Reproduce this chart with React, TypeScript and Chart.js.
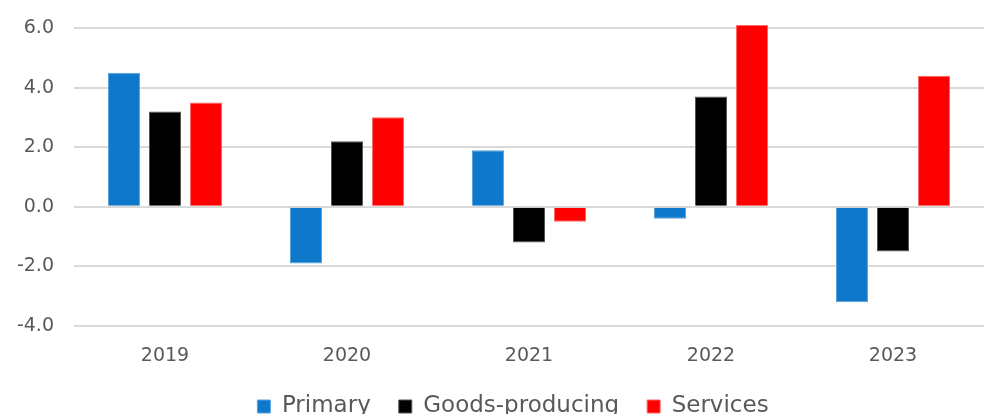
import React, { useEffect, useRef } from "react";
import { Chart, registerables } from "chart.js";

Chart.register(...registerables);

const categories = ["2019", "2020", "2021", "2022", "2023"];
const primary = [4.5, -1.9, 1.9, -0.4, -3.2];
const goodsProducing = [3.2, 2.2, -1.2, 3.7, -1.5];
const services = [3.5, 3.0, -0.5, 6.1, 4.4];
const seriesNames = ["Primary", "Goods-producing", "Services"];
const yTicks = [-4, -2, 0, 2, 4, 6];

const legendShift = {
  id: "legendShift",
  afterLayout(chart: any) {
    if (chart.legend) chart.legend.left += 42;
  },
};

export default function App() {
  const ref = useRef<HTMLCanvasElement | null>(null);
  useEffect(() => {
    if (!ref.current) return;
    const font = "'DejaVu Sans', sans-serif";
    const chart = new Chart(ref.current, {
      type: "bar",
      data: {
        labels: categories,
        datasets: [
          { label: seriesNames[0], data: primary, backgroundColor: "#0E78CB", borderColor: "#5aa2dd", borderWidth: 1 },
          { label: seriesNames[1], data: goodsProducing, backgroundColor: "#000000", borderColor: "#555555", borderWidth: 1 },
          { label: seriesNames[2], data: services, backgroundColor: "#FF0000", borderColor: "#ff6666", borderWidth: 1 },
        ],
      },
      options: {
        animation: false,
        responsive: false,
        maintainAspectRatio: false,
        layout: { padding: { top: 22, right: 0, left: 0, bottom: 0 } },
        datasets: { bar: { barPercentage: 0.78, categoryPercentage: 0.676 } },
        scales: {
          x: {
            grid: { display: false },
            border: { display: false },
            ticks: { color: "#595959", font: { family: font, size: 19 }, padding: 11 },
            afterFit: (scale: any) => {
              scale.height = 41;
            },
          },
          y: {
            min: -4,
            max: 6.2,
            border: { display: false },
            grid: { color: "#d9d9d9", lineWidth: 2, drawTicks: false },
            afterBuildTicks: (scale: any) => {
              scale.ticks = yTicks.map((v) => ({ value: v }));
            },
            afterFit: (scale: any) => {
              scale.width = 74;
              scale.paddingTop = 0;
              scale.paddingBottom = 0;
            },
            ticks: {
              color: "#595959",
              padding: 20,
              font: { family: font, size: 19 },
              callback: (v: any) => Number(v).toFixed(1),
            },
          },
        },
        plugins: {
          legend: {
            position: "bottom",
            labels: {
              color: "#595959",
              font: { family: font, size: 23 },
              boxWidth: 13,
              boxHeight: 13,
              padding: 28,
            },
          },
          tooltip: { enabled: false },
        },
      },
      plugins: [legendShift],
    });
    return () => chart.destroy();
  }, []);
  return (
    <div style={{ position: "absolute", left: 0, top: 0, width: 984, height: 414, overflow: "hidden" }}>
      <canvas ref={ref} width={984} height={428} style={{ display: "block" }} />
    </div>
  );
}
